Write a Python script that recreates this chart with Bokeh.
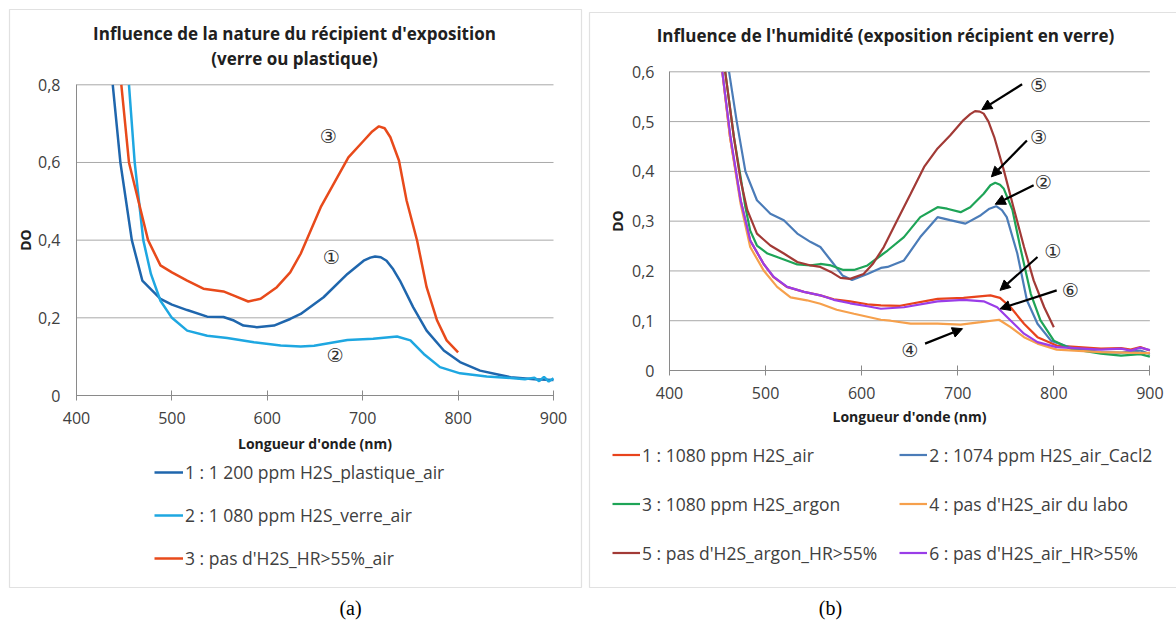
from bokeh.plotting import figure
from bokeh.models import (Range1d, FixedTicker, CustomJSTickFormatter, Legend, LegendItem,
                          Label, BoxAnnotation, Arrow, NormalHead)
from bokeh.layouts import row
from bokeh.embed import file_html
from bokeh.resources import INLINE

# ---------------- data : panel (a) ----------------
a_wl1 = [438, 446, 458, 469, 488, 500, 516, 537, 554, 565, 575, 589, 607, 624, 635, 659, 684,
         701, 708, 713, 719, 725, 732, 739, 753, 767, 785, 802, 823, 855, 880, 900]
a_do1 = [0.8, 0.6, 0.4, 0.296, 0.249, 0.234, 0.22, 0.203, 0.202, 0.193, 0.18, 0.176, 0.18, 0.197,
         0.21, 0.253, 0.313, 0.347, 0.355, 0.358, 0.356, 0.347, 0.325, 0.296, 0.227, 0.167, 0.116,
         0.086, 0.064, 0.047, 0.042, 0.040]

a_wl2 = [455, 461, 470, 478, 488, 500, 516, 537, 558, 586, 614, 635, 649, 684, 711, 736, 750, 764,
         781, 802, 830, 855, 870, 880, 885, 890, 895, 900]
a_do2 = [0.8, 0.6, 0.4, 0.313, 0.244, 0.2, 0.167, 0.154, 0.148, 0.137, 0.129, 0.126, 0.128, 0.143,
         0.146, 0.152, 0.142, 0.107, 0.073, 0.057, 0.049, 0.045, 0.042, 0.046, 0.037, 0.048, 0.036, 0.044]

a_wl3 = [447, 455, 475, 488, 500, 516, 533, 554, 565, 580, 593, 610, 624, 635, 656, 685, 701, 710,
         717, 723, 729, 738, 746, 757, 767, 778, 788, 800]
a_do3 = [0.8, 0.6, 0.4, 0.335, 0.317, 0.296, 0.275, 0.268, 0.257, 0.242, 0.249, 0.279, 0.317, 0.365,
         0.485, 0.613, 0.656, 0.68, 0.693, 0.688, 0.665, 0.605, 0.502, 0.399, 0.279, 0.193, 0.142, 0.111]

a_labels = ["1 : 1 200 ppm H2S_plastique_air", "2 : 1 080 ppm H2S_verre_air", "3 : pas d'H2S_HR>55%_air"]
a_colors = ["#1f66ad", "#1ea7e1", "#e84a1b"]

# ---------------- data : panel (b) ----------------
b_wl1 = [455, 463, 474, 484, 498, 508, 522, 540, 557, 571, 588, 606, 620, 640, 679, 706, 734, 744,
         755, 769, 783, 803, 849, 870, 880, 890, 900]
b_do1 = [0.6, 0.469, 0.342, 0.261, 0.214, 0.188, 0.168, 0.158, 0.151, 0.143, 0.139, 0.133, 0.131,
         0.13, 0.144, 0.146, 0.151, 0.146, 0.127, 0.094, 0.067, 0.050, 0.044, 0.045, 0.042, 0.047, 0.040]

b_wl2 = [462, 470, 479, 491, 505, 519, 533, 547, 557, 568, 580, 590, 606, 620, 627, 644, 661, 679,
         692, 708, 724, 733, 740, 746, 751, 762, 772, 783, 797, 817, 849, 870, 890, 900]
b_do2 = [0.6, 0.5, 0.4, 0.342, 0.315, 0.302, 0.275, 0.258, 0.248, 0.221, 0.191, 0.182, 0.194, 0.206,
         0.208, 0.221, 0.268, 0.308, 0.302, 0.295, 0.312, 0.325, 0.33, 0.322, 0.308, 0.235, 0.141,
         0.094, 0.06, 0.046, 0.037, 0.036, 0.04, 0.033]

b_wl3 = [458, 467, 474, 479, 484, 491, 502, 519, 533, 547, 557, 568, 581, 592, 606, 620, 627, 644,
         661, 679, 689, 703, 713, 727, 734, 739, 744, 748, 757, 765, 776, 786, 800, 817, 849, 870, 890, 900]
b_do3 = [0.6, 0.469, 0.389, 0.328, 0.281, 0.251, 0.235, 0.223, 0.213, 0.211, 0.214, 0.211, 0.202,
         0.202, 0.211, 0.231, 0.241, 0.268, 0.308, 0.328, 0.325, 0.318, 0.328, 0.355, 0.372, 0.377,
         0.373, 0.365, 0.322, 0.248, 0.154, 0.101, 0.06, 0.044, 0.034, 0.03, 0.033, 0.028]

b_wl4 = [455, 463, 474, 484, 498, 512, 526, 543, 557, 574, 592, 606, 620, 630, 651, 679, 703, 724,
         743, 755, 769, 783, 803, 849, 900]
b_do4 = [0.6, 0.469, 0.335, 0.248, 0.201, 0.168, 0.147, 0.141, 0.134, 0.122, 0.114, 0.108, 0.102,
         0.1, 0.094, 0.094, 0.092, 0.097, 0.102, 0.087, 0.067, 0.054, 0.042, 0.037, 0.035]

b_wl5 = [458, 467, 474, 481, 491, 505, 519, 533, 547, 557, 568, 578, 588, 602, 612, 623, 637, 651,
         665, 679, 692, 706, 713, 718, 723, 727, 732, 738, 748, 758, 769, 779, 790, 800]
b_do5 = [0.6, 0.469, 0.382, 0.322, 0.275, 0.251, 0.235, 0.218, 0.211, 0.208, 0.198, 0.186, 0.184,
         0.194, 0.215, 0.248, 0.302, 0.355, 0.409, 0.446, 0.472, 0.503, 0.515, 0.521, 0.52, 0.516, 0.5,
         0.469, 0.402, 0.328, 0.248, 0.181, 0.127, 0.087]

b_wl6 = [455, 463.5, 474, 484, 498, 508.5, 522.5, 540, 557, 571, 588, 606, 620, 644, 679, 706, 727,
         741, 755, 769, 783, 803, 849, 870, 880, 890, 900]
b_do6 = [0.6, 0.469, 0.342, 0.261, 0.214, 0.188, 0.168, 0.158, 0.151, 0.142, 0.135, 0.129, 0.124,
         0.127, 0.139, 0.142, 0.139, 0.127, 0.1005, 0.074, 0.057, 0.047, 0.042, 0.044, 0.040, 0.046, 0.041]

b_labels = ["1 : 1080 ppm H2S_air", "2 : 1074 ppm H2S_air_Cacl2", "3 : 1080 ppm H2S_argon",
            "4 : pas d'H2S_air du labo", "5 : pas d'H2S_argon_HR>55%", "6 : pas d'H2S_air_HR>55%"]
b_colors = ["#e8431c", "#4b7cb8", "#1ea457", "#f6a04c", "#a23a36", "#9a3de8"]

x_ticks = [400, 500, 600, 700, 800, 900]
a_yticks = [0, 0.2, 0.4, 0.6, 0.8]
b_yticks = [0, 0.1, 0.2, 0.3, 0.4, 0.5, 0.6]

# annotation marks (text, wavelength, DO)
a_marks = [("③", 664, 0.667), ("①", 667, 0.356), ("②", 671, 0.103)]
b_marks = [("⑤", 784, 0.573), ("③", 784, 0.470), ("②", 789, 0.3785),
           ("①", 799, 0.241), ("⑥", 817, 0.161), ("④", 650, 0.042)]
# arrows (x_start, y_start, x_end, y_end)
b_arrows = [(767, 0.575, 725, 0.524), (772, 0.462, 735, 0.389), (779, 0.372, 739, 0.334),
            (783, 0.228, 744, 0.161), (803, 0.161, 744, 0.124), (666, 0.054, 705, 0.084)]

FONT = "Open Sans"
CIRC = "DejaVu Sans"
GRID = "#a9a9a9"
AXC = "#8a8a8a"
TXT = "#404040"
H = 620


def make_fig(w, px400, px900, py0, pytop, ytop, yticks, ylab_stand, ytitle_stand, xlab_stand, xtitle_stand):
    sx = (px900 - px400) / 500.0
    sy = (py0 - pytop) / ytop
    p = figure(width=w, height=H,
               x_range=Range1d(400 - px400 / sx, 400 + (w - px400) / sx),
               y_range=Range1d(-(H - py0) / sy, py0 / sy),
               output_backend="svg", toolbar_location=None, min_border=0)
    p.title.visible = False
    p.outline_line_color = None
    p.background_fill_color = "white"
    p.border_fill_color = "white"
    p.xgrid.visible = False
    p.ygrid.visible = False
    # horizontal grid lines between 400 and 900
    p.segment(x0=[400] * (len(yticks) - 1), y0=yticks[1:], x1=[900] * (len(yticks) - 1), y1=yticks[1:],
              line_color=GRID, line_width=1, level="underlay")
    p.xaxis.ticker = FixedTicker(ticks=x_ticks)
    p.yaxis.ticker = FixedTicker(ticks=yticks)
    p.yaxis.formatter = CustomJSTickFormatter(
        code="return tick == 0 ? '0' : tick.toFixed(1).replace('.', ',');")
    p.xaxis.fixed_location = 0
    p.yaxis.fixed_location = 400
    p.xaxis.bounds = (400, 900)
    p.yaxis.bounds = (0, yticks[-1])
    for ax in (p.xaxis[0], p.yaxis[0]):
        ax.axis_line_color = AXC
        ax.major_tick_line_color = AXC
        ax.minor_tick_line_color = None
        ax.major_label_text_font = FONT
        ax.major_label_text_font_size = "16px"
        ax.major_label_text_color = TXT
        ax.axis_label_text_font = FONT
        ax.axis_label_text_font_style = "bold"
        ax.axis_label_text_font_size = "14px"
        ax.axis_label_text_color = "#202020"
    p.xaxis.major_tick_in = 5
    p.xaxis.major_tick_out = 5
    p.yaxis.major_tick_in = 0
    p.yaxis.major_tick_out = 0
    p.xaxis.major_label_standoff = xlab_stand
    p.yaxis.major_label_standoff = ylab_stand
    p.xaxis.axis_label = "Longueur d'onde (nm)"
    p.xaxis.axis_label_standoff = xtitle_stand
    p.yaxis.axis_label = "DO"
    p.yaxis.axis_label_standoff = ytitle_stand
    return p


def txt(p, x, y, text, size, bold=False, font=FONT, color="#202020"):
    p.add_layout(Label(x=x, y=H - y, x_units="screen", y_units="screen", text=text,
                       text_align="center", text_baseline="middle", text_font=font,
                       text_font_style="bold" if bold else "normal",
                       text_font_size=size, text_color=color))


# ---------------- panel (a) ----------------
WA = 585
pa = make_fig(WA, 76, 553, 395, 84.3, 0.8, a_yticks, 16, 0, 11, 7)
pa.add_layout(BoxAnnotation(left=9, right=581, top=H - 9, bottom=H - 587, left_units="screen",
                            right_units="screen", top_units="screen", bottom_units="screen",
                            fill_alpha=0, line_color="#9a9a9a", line_width=1.2, level="underlay"))
ra = []
for wl, do, c in zip([a_wl1, a_wl2, a_wl3], [a_do1, a_do2, a_do3], a_colors):
    ra.append(pa.line(wl, do, line_color=c, line_width=2.5))
leg_a = Legend(items=[LegendItem(label=l, renderers=[r]) for l, r in zip(a_labels, ra)],
               location=(154, H - 570), orientation="vertical",
               label_text_font=FONT, label_text_font_size="17.5px", label_text_color=TXT,
               glyph_width=29, glyph_height=24, label_height=24, label_standoff=2, spacing=19,
               padding=0, margin=0, border_line_color=None, background_fill_alpha=0)
pa.add_layout(leg_a, "center")
txt(pa, 294, 33, "Influence de la nature du récipient d'exposition", "17px", bold=True)
txt(pa, 294, 58, "(verre ou plastique)", "17px", bold=True)
txt(pa, 350, 607, "(a)", "20px", font="Liberation Serif", color="black")
for t, x, y in a_marks:
    pa.add_layout(Label(x=x, y=y, text=t, text_align="center", text_baseline="middle",
                        text_font=CIRC, text_font_size="19px", text_color="#303030"))

# ---------------- panel (b) ----------------
WB = 591
OX = WA
pb = make_fig(WB, 669 - OX, 1149.4 - OX, 370, 71.3, 0.6, b_yticks, 15, 2, 11, 5)
pb.add_layout(BoxAnnotation(left=4, right=WB + 10, top=H - 12, bottom=H - 587, left_units="screen",
                            right_units="screen", top_units="screen", bottom_units="screen",
                            fill_alpha=0, line_color="#9a9a9a", line_width=1.2, level="underlay"))
rb = []
for wl, do, c in zip([b_wl1, b_wl2, b_wl3, b_wl4, b_wl5, b_wl6],
                     [b_do1, b_do2, b_do3, b_do4, b_do5, b_do6], b_colors):
    rb.append(pb.line(wl, do, line_color=c, line_width=2.2))
leg_b = Legend(items=[LegendItem(label=l, renderers=[r]) for l, r in zip(b_labels, rb)],
               location=(612 - OX, H - 566), orientation="horizontal", ncols=2,
               label_text_font=FONT, label_text_font_size="17.5px", label_text_color=TXT,
               glyph_width=28, glyph_height=27, label_height=27, label_standoff=2, spacing=22,
               padding=0, margin=0, border_line_color=None, background_fill_alpha=0)
pb.add_layout(leg_b, "center")
txt(pb, 885 - OX, 35, "Influence de l'humidité (exposition récipient en verre)", "17px", bold=True)
txt(pb, 830 - OX, 607, "(b)", "20px", font="Liberation Serif", color="black")
for xs, ys, xe, ye in b_arrows:
    pb.add_layout(Arrow(end=NormalHead(size=10, fill_color="black", line_color="black"),
                        x_start=xs, y_start=ys, x_end=xe, y_end=ye,
                        line_color="black", line_width=2.2))
for t, x, y in b_marks:
    pb.add_layout(Label(x=x, y=y, text=t, text_align="center", text_baseline="middle",
                        text_font=CIRC, text_font_size="19px", text_color="#303030"))

layout = row(pa, pb, spacing=0)
open("out.html", "w").write(file_html(layout, INLINE))
